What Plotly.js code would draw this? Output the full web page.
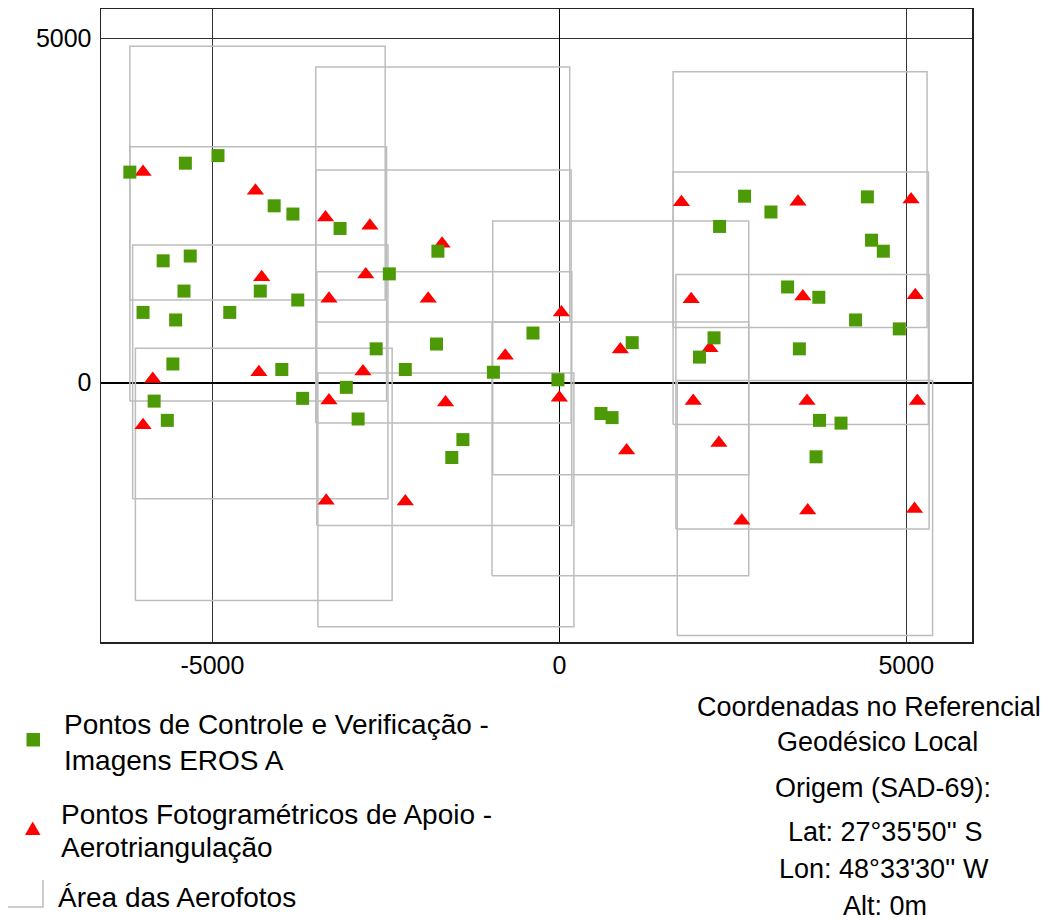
<!DOCTYPE html>
<html>
<head>
<meta charset="utf-8">
<script src="https://cdn.plot.ly/plotly-3.0.1.min.js"></script>
<style>html,body{margin:0;padding:0;background:#fff;}</style>
</head>
<body>
<div id="chart" style="width:1050px;height:920px;"></div>
<script>
// ---- Data (local geodetic coordinates, metres) ----
const controlX = [-6190,-5390,-4920,-4110,-3840,-3160,-5710,-5320,-5410,-4310,-3770,-6000,-5530,-4750,-5570,-4000,-5840,-3700,-5650,-3070,
  -1750,-2450,-380,1050,-2640,-1770,-2220,-950,-20,-2900,-1390,-1550,600,760,
  2670,3050,2310,4440,4500,4670,3290,3740,4270,4900,2230,2020,3460,3750,4060,3700];
const controlY = [3060,3190,3300,2570,2450,2240,1770,1840,1330,1330,1200,1020,910,1020,270,190,-270,-230,-550,-70,
  1910,1580,720,580,490,560,190,150,40,-530,-830,-1090,-450,-510,
  2710,2480,2270,2700,2070,1910,1390,1240,910,780,650,370,490,-550,-590,-1080];

const photoX = [-6000,-4380,-3370,-4290,-3320,-5860,-4330,-3320,-6000,-3360,
  -2730,-1690,-2790,-1890,30,880,-780,-2830,-1640,0,970,-2220,
  1760,3440,5070,1900,3510,5130,2170,1930,3570,5160,2300,2630,3580,5120];
const photoY = [3060,2790,2400,1530,1220,50,150,-260,-620,-1720,
  2280,2020,1570,1220,1020,480,390,160,-290,-220,-990,-1730,
  2620,2630,2660,1210,1250,1270,500,-270,-270,-270,-880,-2010,-1860,-1840];

// Aerial photo footprints (rectangles)
const rectX0 = [-6190,-6190,-6150,-6110,-3510,-3510,-3495,-3480,-960,-970,1640,1640,1680,1700];
const rectX1 = [-2510,-2490,-2470,-2410,150,170,180,210,2730,2730,5300,5320,5330,5380];
const rectY0 = [1200,-270,-1690,-3170,880,-590,-2080,-3550,-1340,-2810,800,-610,-2130,-3680];
const rectY1 = [4890,3430,2000,500,4590,3090,1610,140,2350,880,4520,3060,1570,30];

const xTickVals = [-5000, 0, 5000];
const xTickText = ["-5000", "0", "5000"];
const yTickVals = [0, 5000];
const yTickText = ["0", "5000"];

const legendLabels = [
  ["Pontos de Controle e Verificação -", "Imagens EROS A"],
  ["Pontos Fotogramétricos de Apoio -", "Aerotriangulação"],
  ["Área das Aerofotos"]
];
const noteLines = ["Coordenadas no Referencial", "Geodésico Local", "Origem (SAD-69):",
  "Lat: 27°35'50'' S", "Lon: 48°33'30'' W", "Alt: 0m"];

// ---- Build traces ----
const rx = [], ry = [];
for (let i = 0; i < rectX0.length; i++) {
  rx.push(rectX0[i], rectX1[i], rectX1[i], rectX0[i], rectX0[i], null);
  ry.push(rectY0[i], rectY0[i], rectY1[i], rectY1[i], rectY0[i], null);
}
const FONT = "Liberation Sans, Arial, Helvetica, sans-serif";
const GREEN = "#4c9a06";
const RED = "#ff0000";
const RECTC = "#bdbdbd";

const traces = [
  {x: rx, y: ry, type: "scatter", mode: "lines", line: {color: RECTC, width: 1.5},
   connectgaps: false, hoverinfo: "skip", name: legendLabels[2][0]},
  {x: photoX, y: photoY, type: "scatter", mode: "markers",
   marker: {symbol: "triangle-up", size: 15, color: RED}, name: legendLabels[1].join(" ")},
  {x: controlX, y: controlY, type: "scatter", mode: "markers",
   marker: {symbol: "square", size: 13, color: GREEN}, name: legendLabels[0].join(" ")}
];

// ---- Layout helpers (pixel -> paper) ----
const L = 101, T = 9, W = 871, H = 633;
const px = v => (v - L) / W;
const py = v => (T + H - v) / H;

const annotations = [];
function addText(text, x, y, anchor, size) {
  annotations.push({text: text, xref: "paper", yref: "paper", x: px(x), y: py(y),
    xanchor: anchor, yanchor: "middle", showarrow: false,
    font: {family: FONT, size: size, color: "#000"}});
}
addText(legendLabels[0][0], 62, 724, "left", 28);
addText(legendLabels[0][1], 62, 760, "left", 28);
addText(legendLabels[1][0], 59, 814, "left", 28);
addText(legendLabels[1][1], 59, 848, "left", 28);
addText(legendLabels[2][0], 56, 897, "left", 28);

const noteX = [869, 877, 883, 885, 884, 885];
const noteY = [707, 742, 788, 832, 869, 906];
noteLines.forEach((t, i) => addText(t, noteX[i], noteY[i], "center", 27));

const shapes = [
  // legend keys
  {type: "rect", xref: "paper", yref: "paper", x0: px(26.5), x1: px(40), y0: py(746.5), y1: py(733),
   fillcolor: GREEN, line: {width: 0}},
  {type: "path", xref: "paper", yref: "paper",
   path: "M " + px(25) + " " + py(835) + " L " + px(40.5) + " " + py(835) + " L " + px(32.7) + " " + py(821.5) + " Z",
   fillcolor: RED, line: {width: 0}},
  {type: "path", xref: "paper", yref: "paper",
   path: "M " + px(8) + " " + py(907) + " L " + px(43) + " " + py(907) + " L " + px(43) + " " + py(880),
   line: {color: RECTC, width: 1.5}}
];

const layout = {
  width: 1050, height: 920,
  margin: {l: L, r: 1050 - L - W, t: T, b: 920 - T - H, pad: 0},
  paper_bgcolor: "#fff", plot_bgcolor: "#fff",
  showlegend: false,
  font: {family: FONT, color: "#000"},
  xaxis: {range: [-6606, 5948], tickvals: xTickVals, ticktext: xTickText,
    showgrid: true, gridcolor: "#333", gridwidth: 1,
    zeroline: true, zerolinecolor: "#000", zerolinewidth: 1,
    showline: true, mirror: true, linecolor: "#222", linewidth: 1.5,
    ticks: "", ticklabelstandoff: 0, tickfont: {family: FONT, size: 25, color: "#000"}},
  yaxis: {range: [-3773, 5432], tickvals: yTickVals, ticktext: yTickText,
    showgrid: true, gridcolor: "#333", gridwidth: 1,
    zeroline: true, zerolinecolor: "#000", zerolinewidth: 2,
    showline: true, mirror: true, linecolor: "#222", linewidth: 1.5,
    ticks: "", ticklabelstandoff: 3, tickfont: {family: FONT, size: 25, color: "#000"}},
  annotations: annotations,
  shapes: shapes
};

Plotly.newPlot("chart", traces, layout, {displayModeBar: false, staticPlot: true});
</script>
</body>
</html>
